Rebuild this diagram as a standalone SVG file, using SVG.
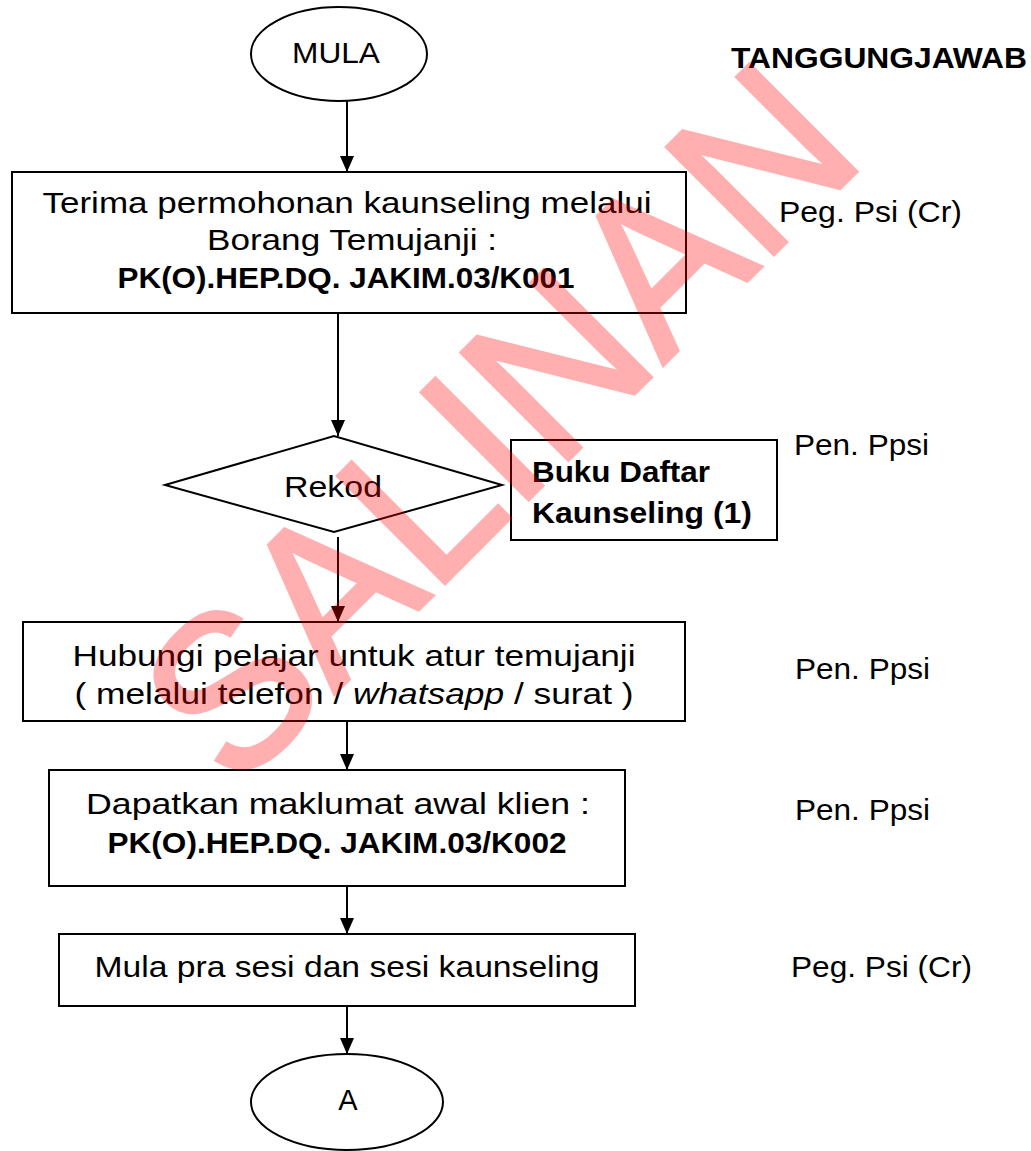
<svg xmlns="http://www.w3.org/2000/svg" width="1031" height="1151" viewBox="0 0 1031 1151">
  <defs>
    <marker id="arrow" markerWidth="16" markerHeight="14" refX="16" refY="7" orient="auto" markerUnits="userSpaceOnUse" viewBox="0 0 16 14">
      <path d="M0,0 L16,7 L0,14 Z" fill="#000"/>
    </marker>
    <style>
      .shape { fill: #fff; stroke: #000; stroke-width: 2; }
      .edge { fill: none; stroke: #000; stroke-width: 2; marker-end: url(#arrow); }
      .t { font-family: "Liberation Sans", "DejaVu Sans", sans-serif; font-size: 29px; fill: #000; }
      .c { text-anchor: middle; }
      .b { font-weight: bold; font-size: 30px; }
      .wm { font-family: "Liberation Sans", "DejaVu Sans", sans-serif; font-size: 220px; fill: #ff0000; stroke: #ff0000; stroke-width: 4; stroke-linejoin: miter; }
    </style>
  </defs>

  <rect width="1031" height="1151" fill="#fff"/>

  <!-- connectors -->
  <g id="connectors">
    <line class="edge" x1="347" y1="101" x2="347" y2="172"/>
    <line class="edge" x1="338" y1="313" x2="338" y2="436"/>
    <line class="edge" x1="338" y1="537" x2="338" y2="622"/>
    <line class="edge" x1="347" y1="721" x2="347" y2="770"/>
    <line class="edge" x1="347" y1="886" x2="347" y2="934"/>
    <line class="edge" x1="347" y1="1006" x2="347" y2="1054"/>
  </g>

  <!-- flow nodes -->
  <g id="start">
    <ellipse class="shape" cx="339" cy="54" rx="88" ry="47"/>
    <text class="t c" x="336" y="63" textLength="88" lengthAdjust="spacingAndGlyphs">MULA</text>
  </g>

  <g id="terima">
    <rect class="shape" x="12" y="172" width="674" height="141"/>
    <text class="t c" x="347" y="213" textLength="609" lengthAdjust="spacingAndGlyphs">Terima permohonan kaunseling melalui</text>
    <text class="t c" x="352" y="250" textLength="290" lengthAdjust="spacingAndGlyphs">Borang Temujanji :</text>
    <text class="t c b" x="346" y="288" textLength="457" lengthAdjust="spacingAndGlyphs">PK(O).HEP.DQ. JAKIM.03/K001</text>
  </g>

  <g id="rekod">
    <polygon class="shape" points="165,485 334,436 502,485 334,532"/>
    <text class="t c" x="333" y="497" textLength="98" lengthAdjust="spacingAndGlyphs">Rekod</text>
  </g>

  <g id="buku-daftar">
    <rect class="shape" x="511" y="440" width="266" height="100"/>
    <text class="t b" x="532" y="482" textLength="178" lengthAdjust="spacingAndGlyphs">Buku Daftar</text>
    <text class="t b" x="532" y="523" textLength="220" lengthAdjust="spacingAndGlyphs">Kaunseling (1)</text>
  </g>

  <g id="hubungi">
    <rect class="shape" x="23" y="622" width="662" height="99"/>
    <text class="t c" x="354" y="666" textLength="563" lengthAdjust="spacingAndGlyphs">Hubungi pelajar untuk atur temujanji</text>
    <text class="t c" x="354" y="704" textLength="559" lengthAdjust="spacingAndGlyphs">( melalui telefon / <tspan font-style="italic">whatsapp</tspan> / surat )</text>
  </g>

  <g id="dapatkan">
    <rect class="shape" x="49" y="770" width="576" height="116"/>
    <text class="t c" x="338" y="814" textLength="504" lengthAdjust="spacingAndGlyphs">Dapatkan maklumat awal klien :</text>
    <text class="t c b" x="337" y="853" textLength="459" lengthAdjust="spacingAndGlyphs">PK(O).HEP.DQ. JAKIM.03/K002</text>
  </g>

  <g id="sesi">
    <rect class="shape" x="59" y="934" width="576" height="72"/>
    <text class="t c" x="347" y="977" textLength="505" lengthAdjust="spacingAndGlyphs">Mula pra sesi dan sesi kaunseling</text>
  </g>

  <g id="connector-a">
    <ellipse class="shape" cx="347" cy="1102" rx="96" ry="48"/>
    <text class="t c" x="348" y="1110">A</text>
  </g>

  <!-- responsibility column -->
  <g id="tanggungjawab">
    <text class="t b" x="731" y="68" font-size="28" textLength="296" lengthAdjust="spacingAndGlyphs">TANGGUNGJAWAB</text>
    <text class="t" x="779" y="222" textLength="183" lengthAdjust="spacingAndGlyphs">Peg. Psi (Cr)</text>
    <text class="t" x="794" y="455" textLength="135" lengthAdjust="spacingAndGlyphs">Pen. Ppsi</text>
    <text class="t" x="795" y="679" textLength="135" lengthAdjust="spacingAndGlyphs">Pen. Ppsi</text>
    <text class="t" x="795" y="820" textLength="135" lengthAdjust="spacingAndGlyphs">Pen. Ppsi</text>
    <text class="t" x="791" y="977" textLength="181" lengthAdjust="spacingAndGlyphs">Peg. Psi (Cr)</text>
  </g>

  <!-- copy stamp across the page -->
  <g opacity="0.31">
    <text class="wm c" transform="translate(552,476) rotate(-45)" x="0" y="0" textLength="895" lengthAdjust="spacingAndGlyphs">SALINAN</text>
  </g>
</svg>
